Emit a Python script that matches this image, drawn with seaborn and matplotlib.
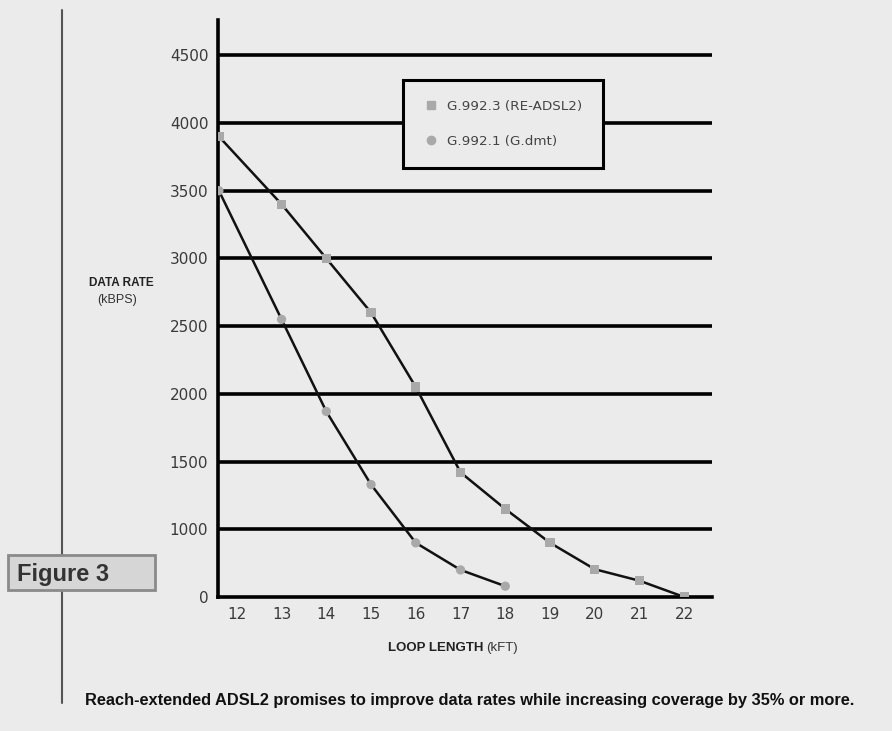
import numpy as np
import pandas as pd
import matplotlib
matplotlib.use("Agg")
import matplotlib.pyplot as plt
import seaborn as sns
from matplotlib.patches import Rectangle
from matplotlib.lines import Line2D

# values
loop_len = [11.6, 13, 14, 15, 16, 17, 18, 19, 20, 21, 22]
re_adsl2 = [3900, 3400, 3000, 2600, 2050, 1420, 1150, 800, 410, 240, 0]
gdmt_len = [11.6, 13, 14, 15, 16, 17, 18]
gdmt = [3500, 2550, 1870, 1330, 800, 400, 160]
x_ticks = [12, 13, 14, 15, 16, 17, 18, 19, 20, 21, 22]
y_ticks = [0, 1000, 1500, 2000, 2500, 3000, 3500, 4000, 4500]
names = ["G.992.3 (RE-ADSL2)", "G.992.1 (G.dmt)"]

df = pd.concat([
    pd.DataFrame({"kft": loop_len, "rate": re_adsl2, "std": names[0]}),
    pd.DataFrame({"kft": gdmt_len, "rate": gdmt, "std": names[1]}),
])

sns.set_style("white")
plt.rcParams["font.family"] = ["DejaVu Sans"]
bg = "#ebebeb"
narrow = ["Liberation Sans Narrow", "Liberation Sans", "DejaVu Sans"]

fig = plt.figure(figsize=(8.92, 7.31), dpi=100, facecolor=bg)
ax = fig.add_axes([218/892, 134/731, (712-218)/892, (711-134)/731])
ax.set_facecolor(bg)

for n in names:
    sns.lineplot(data=df[df["std"] == n], x="kft", y="rate", color="#111111",
                 lw=1.8, ax=ax, legend=False, zorder=3)
sns.scatterplot(data=df, x="kft", y="rate", style="std", markers={names[0]: "s", names[1]: "o"},
                color="#a9a9a9", s=45, edgecolor="none", ax=ax, legend=False, zorder=4)

# the bottom band (0-1000) is drawn half as tall as the others in the original
def fwd(v):
    v = np.asarray(v, dtype=float)
    return np.where(v < 1000, 500 + v / 2, v)

def inv(u):
    u = np.asarray(u, dtype=float)
    return np.where(u < 1000, (u - 500) * 2, u)

ax.set_yscale("function", functions=(fwd, inv))
ax.set_ylim(0, 4760)
ax.set_xlim(11.58, 22.62)
ax.set_yticks(y_ticks)
ax.set_yticklabels([str(t) for t in y_ticks])
ax.set_xticks(x_ticks)
ax.set_xticklabels([str(t) for t in x_ticks])
ax.tick_params(length=0, labelsize=11, labelcolor="#3a3a3a", pad=7)
ax.set_xlabel("")
ax.set_ylabel("")
for t in y_ticks[1:]:
    ax.axhline(t, color="black", lw=2.6, zorder=1)
for s in ["top", "right"]:
    ax.spines[s].set_visible(False)
for s in ["left", "bottom"]:
    ax.spines[s].set_color("black")
    ax.spines[s].set_linewidth(2.6)

handles = [Line2D([], [], marker="s", ls="none", color="#a9a9a9", ms=6),
           Line2D([], [], marker="o", ls="none", color="#a9a9a9", ms=6)]
leg = ax.legend(handles, names, loc="upper left", bbox_to_anchor=((403-218)/494, 1-(80-20)/577),
                frameon=True, fancybox=False, facecolor=bg, framealpha=1, fontsize=9.7,
                labelcolor="#444444", borderpad=1.5, labelspacing=1.6, handletextpad=0.6,
                handlelength=1.2, borderaxespad=0)
leg.get_frame().set_edgecolor("black")
leg.get_frame().set_linewidth(2.2)
leg.set_zorder(5)

# axis titles
fig.text(121/892, 1-283/731, "DATA RATE", ha="center", va="center", fontsize=8.5,
         fontweight="bold", color="#222222", family=narrow)
fig.text(117/892, 1-300/731, "(kBPS)", ha="center", va="center", fontsize=9,
         color="#333333", family=narrow)
fig.text(483/892, 1-648/731, "LOOP LENGTH", ha="right", va="center", fontsize=9.5,
         fontweight="bold", color="#222222", family=narrow)
fig.text(486/892, 1-648/731, "(kFT)", ha="left", va="center", fontsize=9.5,
         color="#333333", family=narrow)

# page decorations from the scan
rule = Line2D([62/892, 62/892], [1-10/731, 1-703/731], color="#555555", lw=1.5, zorder=0)
fig.add_artist(rule)
box = Rectangle((8/892, 1-590/731), 147/892, 35/731, transform=fig.transFigure,
                facecolor="#d6d6d6", edgecolor="#8a8a8a", lw=2, zorder=2)
fig.add_artist(box)
fig.text(17/892, 1-574/731, "Figure 3", ha="left", va="center", fontsize=17, fontweight="bold",
         color="#333333", family=narrow, zorder=3)
fig.text(470/892, 1-700/731,
         "Reach-extended ADSL2 promises to improve data rates while increasing coverage by 35% or more.",
         ha="center", va="center", fontsize=11.8, fontweight="bold", color="#111111",
         family=narrow)

fig.savefig("out.png", dpi=100, facecolor=bg)
